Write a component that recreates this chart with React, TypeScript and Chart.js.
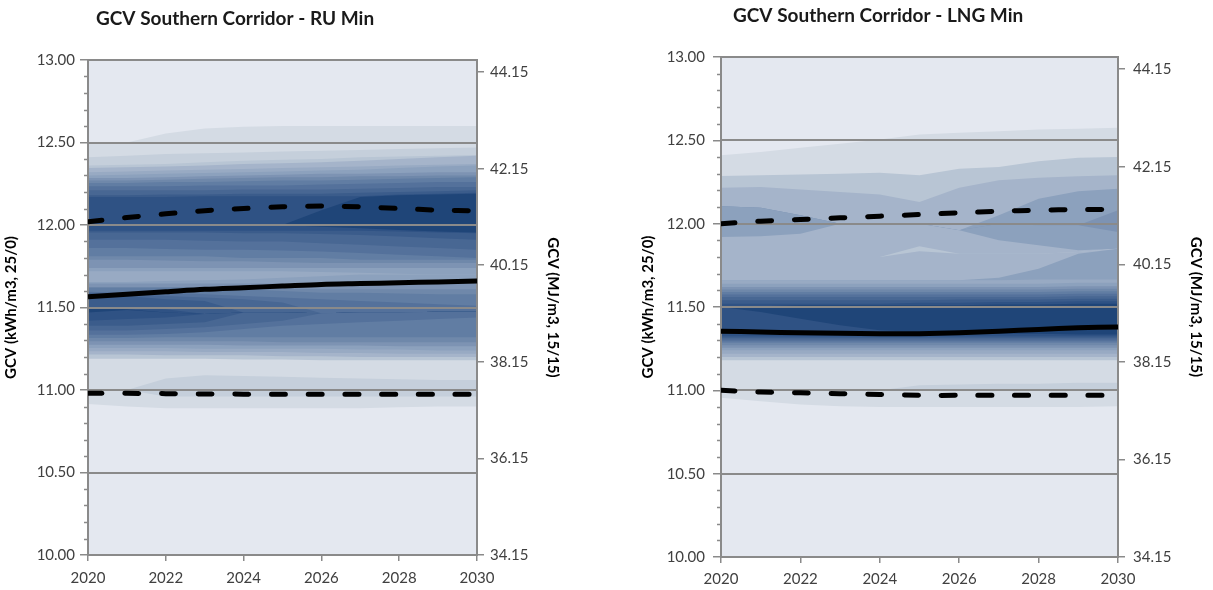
import React, { useEffect, useRef } from 'react';
import { Chart, registerables } from 'chart.js';

Chart.register(...registerables);

const FONT = 'Lato, "Open Sans", sans-serif';
const GRID = '#8a8a8a';
const TEXT = '#404040';

// x axis: years
const years = [2020, 2021, 2022, 2023, 2024, 2025, 2026, 2027, 2028, 2029, 2030];
const yearTicks = [2020, 2022, 2024, 2026, 2028, 2030];

// left axis (kWh/m3, 25/0) and right axis (MJ/m3, 15/15)
const kwhRange = [10, 13];
const kwhStep = 0.5;
const mjRange = [34.15, 44.4];
const mjTicks = [34.15, 36.15, 38.15, 40.15, 42.15, 44.15];

// density level -> fill colour (0 = outside the distribution)
const shadePalette = [
  '#e4e8f0', '#d4dbe4', '#c5cfdb', '#b8c5d4', '#a5b4ca', '#98aac3', '#8ca1bd', '#7d93b3',
  '#6f88aa', '#617da3', '#54719b', '#486793', '#3b5c8b', '#2f5284', '#1f4578',
];

// ---------- GCV Southern Corridor - RU Min ----------
const ruMedian = [11.565, 11.58, 11.595, 11.61, 11.62, 11.63, 11.64, 11.645, 11.65, 11.655, 11.66];
const ruUpper = [12.02, 12.045, 12.068, 12.087, 12.1, 12.11, 12.115, 12.11, 12.1, 12.09, 12.085];
const ruLower = [10.98, 10.98, 10.978, 10.976, 10.975, 10.975, 10.975, 10.975, 10.975, 10.975, 10.975];

// contour edges, bottom to top (kWh/m3 per year)
const ruEdges = [
  [10.915, 10.9, 10.89, 10.89, 10.89, 10.89, 10.89, 10.89, 10.895, 10.9, 10.9],
  [11.0, 11.0, 10.96, 10.96, 10.96, 10.96, 10.96, 10.96, 10.96, 10.96, 10.96],
  [11.0, 11.0, 11.07, 11.09, 11.085, 11.08, 11.075, 11.07, 11.065, 11.06, 11.06],
  [11.19, 11.19, 11.19, 11.19, 11.185, 11.185, 11.18, 11.18, 11.18, 11.18, 11.18],
  [11.215, 11.215, 11.21, 11.21, 11.21, 11.205, 11.205, 11.2, 11.2, 11.2, 11.2],
  [11.235, 11.235, 11.235, 11.23, 11.23, 11.23, 11.225, 11.225, 11.22, 11.22, 11.22],
  [11.255, 11.255, 11.255, 11.25, 11.25, 11.25, 11.25, 11.245, 11.245, 11.24, 11.24],
  [11.275, 11.275, 11.275, 11.275, 11.27, 11.27, 11.27, 11.27, 11.265, 11.265, 11.265],
  [11.295, 11.295, 11.295, 11.295, 11.295, 11.29, 11.29, 11.29, 11.29, 11.29, 11.29],
  [11.315, 11.315, 11.32, 11.32, 11.32, 11.32, 11.32, 11.32, 11.32, 11.32, 11.32],
  [11.335, 11.335, 11.34, 11.35, 11.37, 11.39, 11.4, 11.41, 11.42, 11.43, 11.44],
  [11.36, 11.36, 11.37, 11.38, 11.4, 11.42, 11.465, 11.47, 11.47, 11.475, 11.475],
  [11.39, 11.39, 11.4, 11.41, 11.47, 11.47, 11.465, 11.47, 11.47, 11.475, 11.475],
  [11.42, 11.43, 11.44, 11.46, 11.47, 11.47, 11.465, 11.47, 11.47, 11.475, 11.475],
  [11.47, 11.485, 11.47, 11.46, 11.47, 11.47, 11.465, 11.47, 11.47, 11.475, 11.475],
  [11.5, 11.49, 11.47, 11.46, 11.47, 11.47, 11.465, 11.47, 11.47, 11.475, 11.475],
  [11.5, 11.5, 11.49, 11.46, 11.47, 11.47, 11.465, 11.47, 11.47, 11.475, 11.475],
  [11.585, 11.57, 11.55, 11.54, 11.47, 11.47, 11.465, 11.47, 11.47, 11.475, 11.475],
  [11.59, 11.58, 11.57, 11.56, 11.55, 11.53, 11.465, 11.47, 11.47, 11.475, 11.475],
  [11.595, 11.59, 11.59, 11.58, 11.57, 11.56, 11.55, 11.54, 11.53, 11.52, 11.51],
  [11.62, 11.62, 11.62, 11.62, 11.61, 11.6, 11.59, 11.59, 11.585, 11.58, 11.58],
  [11.625, 11.625, 11.625, 11.625, 11.62, 11.615, 11.61, 11.61, 11.61, 11.61, 11.61],
  [11.645, 11.645, 11.645, 11.645, 11.645, 11.645, 11.645, 11.645, 11.65, 11.65, 11.65],
  [11.655, 11.655, 11.66, 11.665, 11.67, 11.68, 11.69, 11.7, 11.7, 11.7, 11.7],
  [11.72, 11.72, 11.72, 11.72, 11.72, 11.72, 11.715, 11.71, 11.705, 11.7, 11.7],
  [11.74, 11.74, 11.74, 11.74, 11.74, 11.74, 11.74, 11.74, 11.74, 11.74, 11.74],
  [11.79, 11.79, 11.785, 11.78, 11.78, 11.775, 11.77, 11.77, 11.77, 11.77, 11.77],
  [11.81, 11.81, 11.81, 11.81, 11.8, 11.8, 11.8, 11.79, 11.79, 11.79, 11.79],
  [11.86, 11.86, 11.855, 11.85, 11.85, 11.845, 11.84, 11.83, 11.82, 11.81, 11.8],
  [11.91, 11.91, 11.91, 11.905, 11.9, 11.9, 11.89, 11.88, 11.87, 11.86, 11.85],
  [11.955, 11.955, 11.955, 11.955, 11.95, 11.95, 11.945, 11.94, 11.93, 11.92, 11.91],
  [11.965, 11.965, 11.965, 11.965, 11.965, 11.965, 11.965, 11.965, 11.96, 11.955, 11.95],
  [12.0, 12.0, 12.0, 12.0, 12.0, 12.0, 11.99, 11.98, 11.97, 11.96, 11.955],
  [12.0, 12.0, 12.0, 12.0, 12.0, 12.0, 12.09, 12.17, 12.18, 12.185, 12.19],
  [12.17, 12.17, 12.17, 12.175, 12.175, 12.175, 12.175, 12.175, 12.185, 12.19, 12.195],
  [12.18, 12.18, 12.185, 12.185, 12.19, 12.19, 12.19, 12.195, 12.2, 12.205, 12.21],
  [12.21, 12.21, 12.21, 12.21, 12.215, 12.215, 12.215, 12.22, 12.225, 12.23, 12.23],
  [12.235, 12.235, 12.235, 12.24, 12.24, 12.24, 12.245, 12.25, 12.255, 12.26, 12.26],
  [12.255, 12.255, 12.26, 12.26, 12.265, 12.27, 12.27, 12.275, 12.28, 12.285, 12.29],
  [12.27, 12.27, 12.275, 12.28, 12.285, 12.29, 12.29, 12.295, 12.295, 12.3, 12.3],
  [12.285, 12.285, 12.29, 12.295, 12.3, 12.305, 12.31, 12.31, 12.315, 12.32, 12.32],
  [12.3, 12.305, 12.31, 12.315, 12.32, 12.325, 12.33, 12.335, 12.345, 12.355, 12.36],
  [12.32, 12.325, 12.33, 12.335, 12.34, 12.345, 12.35, 12.355, 12.36, 12.365, 12.37],
  [12.345, 12.35, 12.355, 12.36, 12.37, 12.375, 12.38, 12.39, 12.4, 12.41, 12.42],
  [12.36, 12.365, 12.37, 12.38, 12.39, 12.395, 12.4, 12.41, 12.415, 12.42, 12.425],
  [12.41, 12.42, 12.43, 12.435, 12.44, 12.445, 12.45, 12.455, 12.46, 12.465, 12.47],
  [12.5, 12.5, 12.555, 12.585, 12.595, 12.6, 12.6, 12.6, 12.6, 12.6, 12.6],
];
// density level of the band lying just below each edge
const ruShade = [
  0, 1, 2, 1, 3, 4, 5, 6, 7, 8, 9, 10, 11, 12, 13, 14, 13, 12, 11, 10, 9, 8, 7, 6,
  5, 6, 7, 8, 9, 10, 11, 12, 13, 14, 13, 12, 11, 10, 9, 8, 7, 6, 5, 4, 3, 2, 1,
];

// ---------- GCV Southern Corridor - LNG Min ----------
const lngMedian = [11.355, 11.35, 11.345, 11.342, 11.34, 11.34, 11.345, 11.355, 11.365, 11.375, 11.38];
const lngUpper = [12.0, 12.015, 12.025, 12.035, 12.045, 12.055, 12.065, 12.075, 12.08, 12.085, 12.085];
const lngLower = [11.0, 10.99, 10.985, 10.98, 10.975, 10.97, 10.97, 10.97, 10.97, 10.97, 10.97];

const lngEdges = [
  [10.955, 10.935, 10.915, 10.905, 10.9, 10.9, 10.9, 10.9, 10.9, 10.9, 10.905],
  [11.0, 11.0, 11.0, 11.0, 11.0, 11.0, 11.0, 11.0, 11.0, 11.0, 11.0],
  [11.0, 11.0, 11.0, 11.0, 11.0, 11.03, 11.035, 11.04, 11.04, 11.045, 11.045],
  [11.18, 11.18, 11.18, 11.18, 11.18, 11.18, 11.18, 11.18, 11.18, 11.18, 11.18],
  [11.2, 11.2, 11.2, 11.2, 11.2, 11.2, 11.2, 11.2, 11.2, 11.2, 11.2],
  [11.22, 11.22, 11.22, 11.22, 11.22, 11.22, 11.22, 11.22, 11.22, 11.22, 11.22],
  [11.24, 11.24, 11.24, 11.24, 11.24, 11.24, 11.24, 11.24, 11.24, 11.24, 11.24],
  [11.255, 11.255, 11.255, 11.255, 11.255, 11.255, 11.255, 11.255, 11.255, 11.255, 11.255],
  [11.27, 11.27, 11.27, 11.27, 11.27, 11.27, 11.27, 11.27, 11.27, 11.27, 11.27],
  [11.285, 11.285, 11.285, 11.285, 11.285, 11.285, 11.285, 11.285, 11.285, 11.285, 11.285],
  [11.295, 11.295, 11.295, 11.295, 11.295, 11.295, 11.295, 11.295, 11.295, 11.295, 11.295],
  [11.305, 11.305, 11.305, 11.305, 11.305, 11.305, 11.305, 11.305, 11.305, 11.305, 11.305],
  [11.315, 11.315, 11.315, 11.315, 11.315, 11.315, 11.315, 11.315, 11.315, 11.315, 11.315],
  [11.325, 11.325, 11.325, 11.325, 11.325, 11.325, 11.325, 11.325, 11.325, 11.325, 11.325],
  [11.5, 11.47, 11.43, 11.39, 11.36, 11.35, 11.345, 11.34, 11.34, 11.335, 11.335],
  [11.5, 11.505, 11.51, 11.51, 11.51, 11.51, 11.51, 11.515, 11.515, 11.52, 11.52],
  [11.52, 11.52, 11.52, 11.52, 11.52, 11.525, 11.525, 11.53, 11.53, 11.535, 11.535],
  [11.54, 11.54, 11.54, 11.54, 11.54, 11.54, 11.545, 11.545, 11.545, 11.55, 11.55],
  [11.56, 11.56, 11.56, 11.56, 11.56, 11.56, 11.56, 11.56, 11.56, 11.565, 11.565],
  [11.575, 11.575, 11.575, 11.575, 11.575, 11.575, 11.575, 11.575, 11.575, 11.58, 11.58],
  [11.59, 11.59, 11.59, 11.59, 11.59, 11.59, 11.59, 11.59, 11.59, 11.595, 11.595],
  [11.605, 11.605, 11.605, 11.605, 11.605, 11.605, 11.605, 11.605, 11.605, 11.61, 11.61],
  [11.62, 11.62, 11.62, 11.62, 11.62, 11.62, 11.62, 11.62, 11.62, 11.625, 11.625],
  [11.64, 11.64, 11.64, 11.64, 11.64, 11.64, 11.64, 11.64, 11.64, 11.645, 11.645],
  [11.66, 11.66, 11.66, 11.66, 11.66, 11.66, 11.66, 11.66, 11.665, 11.665, 11.665],
  [11.66, 11.66, 11.66, 11.66, 11.66, 11.66, 11.66, 11.675, 11.73, 11.82, 11.85],
  [11.8, 11.8, 11.8, 11.8, 11.8, 11.835, 11.82, 11.82, 11.82, 11.83, 11.85],
  [11.8, 11.8, 11.8, 11.8, 11.8, 11.865, 11.82, 11.82, 11.82, 11.83, 11.85],
  [11.92, 11.925, 11.94, 12.0, 12.0, 12.0, 11.96, 11.9, 11.87, 11.84, 11.85],
  [12.105, 12.095, 12.05, 12.0, 12.0, 12.0, 11.96, 12.0, 11.99, 11.99, 11.95],
  [12.105, 12.095, 12.05, 12.0, 12.0, 12.0, 11.96, 12.0, 11.99, 11.99, 12.08],
  [12.105, 12.095, 12.05, 12.0, 12.0, 12.0, 11.96, 12.05, 12.15, 12.195, 12.21],
  [12.216, 12.22, 12.205, 12.19, 12.175, 12.13, 12.215, 12.26, 12.275, 12.285, 12.29],
  [12.286, 12.29, 12.295, 12.3, 12.305, 12.29, 12.33, 12.34, 12.375, 12.395, 12.4],
  [12.41, 12.43, 12.455, 12.48, 12.505, 12.535, 12.545, 12.555, 12.565, 12.57, 12.575],
];
const lngShade = [
  0, 1, 2, 1, 3, 4, 5, 6, 7, 8, 9, 10, 11, 12, 13, 14, 13, 12, 11, 10, 9, 8, 7, 6,
  5, 6, 4, 3, 4, 6, 7, 6, 4, 3, 1,
];

type PanelProps = {
  title: string;
  edges: number[][];
  shade: number[];
  median: number[];
  upper: number[];
  lower: number[];
  left: number;
  width: number;
  height: number;
  padding: { left: number; right: number; top: number };
  yWidth: number;
  y1Width: number;
  xHeight: number;
  yLabelPad: number;
  y1LabelPad: number;
  xLabelPad: number;
  titleDx: number;
  titleY: number;
};

function FanPanel(p: PanelProps) {
  const ref = useRef<HTMLCanvasElement | null>(null);

  useEffect(() => {
    const canvas = ref.current;
    if (!canvas) return;
    const toPoints = (vals: number[]) => years.map((x, i) => ({ x, y: vals[i] }));

    // each edge fills down to the axis with the colour of the band below it;
    // higher edges are painted first so lower ones overlay them
    const bandSets = p.edges.map((vals, i) => ({
      data: toPoints(vals),
      fill: 'start',
      backgroundColor: shadePalette[p.shade[i]],
      borderColor: 'rgba(0,0,0,0)',
      borderWidth: 0,
      pointRadius: 0,
      pointHoverRadius: 0,
      tension: 0,
      order: i + 2,
    }));

    const lineBase = {
      fill: false,
      borderColor: '#000000',
      borderWidth: 5,
      pointRadius: 0,
      pointHoverRadius: 0,
      tension: 0.3,
      order: 0,
      isSeries: true,
    };
    const seriesSets = [
      { ...lineBase, label: 'Median', data: toPoints(p.median) },
      { ...lineBase, label: 'Upper', data: toPoints(p.upper), borderDash: [14, 22.7], borderCapStyle: 'round' },
      { ...lineBase, label: 'Lower', data: toPoints(p.lower), borderDash: [14, 22.7], borderCapStyle: 'round' },
    ];

    const framePlugin = {
      id: 'fanFrame',
      beforeDraw(chart: any) {
        const { ctx, chartArea: a } = chart;
        ctx.save();
        ctx.fillStyle = shadePalette[0];
        ctx.fillRect(a.left, a.top, a.right - a.left, a.bottom - a.top);
        ctx.restore();
        chart.$gridDone = false;
      },
      beforeDatasetDraw(chart: any, args: any) {
        const ds = chart.data.datasets[args.index];
        if (!ds.isSeries || chart.$gridDone) return;
        chart.$gridDone = true;
        const { ctx, chartArea: a, scales } = chart;
        const y = scales.y;
        ctx.save();
        ctx.strokeStyle = GRID;
        ctx.lineWidth = 2;
        ctx.beginPath();
        y.ticks.forEach((t: any) => {
          if (t.value <= y.min || t.value >= y.max) return;
          const py = Math.round(y.getPixelForValue(t.value));
          ctx.moveTo(a.left, py);
          ctx.lineTo(a.right, py);
        });
        ctx.stroke();
        ctx.strokeRect(a.left, a.top, a.right - a.left, a.bottom - a.top);
        ctx.restore();
      },
      afterDraw(chart: any) {
        const { ctx, chartArea: a, scales } = chart;
        const y = scales.y;
        ctx.save();
        ctx.strokeStyle = GRID;
        ctx.lineWidth = 1.5;
        ctx.beginPath();
        const minorStep = kwhStep / 5;
        const count = Math.round((kwhRange[1] - kwhRange[0]) / minorStep);
        for (let k = 1; k < count; k++) {
          if (k % 5 === 0) continue;
          const py = Math.round(y.getPixelForValue(kwhRange[0] + k * minorStep)) + 0.5;
          ctx.moveTo(a.left - 4, py);
          ctx.lineTo(a.left, py);
        }
        ctx.stroke();
        ctx.fillStyle = '#1a1a1a';
        ctx.font = `bold 19px ${FONT}`;
        ctx.textAlign = 'left';
        ctx.textBaseline = 'middle';
        ctx.fillText(p.title, a.left + p.titleDx, p.titleY);
        ctx.restore();
      },
    };

    const tickFont = { family: FONT, size: 15 };
    const titleFont = { family: FONT, size: 15, weight: 'bold' as const };

    const chart = new Chart(canvas, {
      type: 'line',
      data: { datasets: [...seriesSets, ...bandSets] as any },
      options: {
        animation: false,
        responsive: false,
        devicePixelRatio: 1,
        events: [],
        layout: { padding: { left: p.padding.left, right: p.padding.right, top: p.padding.top, bottom: 0 } },
        plugins: { legend: { display: false }, tooltip: { enabled: false } },
        scales: {
          x: {
            type: 'linear',
            min: years[0],
            max: years[years.length - 1],
            afterBuildTicks: (s: any) => {
              s.ticks = yearTicks.map((v) => ({ value: v }));
            },
            afterFit: (s: any) => {
              s.height = p.xHeight;
            },
            ticks: {
              font: tickFont,
              color: TEXT,
              padding: p.xLabelPad,
              autoSkip: false,
              maxRotation: 0,
              callback: (v: any) => String(v),
            },
            grid: { drawOnChartArea: false, drawTicks: true, tickLength: 6, color: GRID, lineWidth: 1.5 },
            border: { display: false },
          },
          y: {
            type: 'linear',
            position: 'left',
            min: kwhRange[0],
            max: kwhRange[1],
            afterFit: (s: any) => {
              s.width = p.yWidth;
            },
            ticks: {
              stepSize: kwhStep,
              font: tickFont,
              color: TEXT,
              padding: p.yLabelPad,
              callback: (v: any) => Number(v).toFixed(2),
            },
            grid: { drawOnChartArea: false, drawTicks: true, tickLength: 8, color: GRID, lineWidth: 1.5 },
            border: { display: false },
            title: {
              display: true,
              text: 'GCV (kWh/m3, 25/0)',
              font: titleFont,
              color: '#000000',
              padding: { top: 2, bottom: 0 },
            },
          },
          y1: {
            type: 'linear',
            position: 'right',
            min: mjRange[0],
            max: mjRange[1],
            afterBuildTicks: (s: any) => {
              s.ticks = mjTicks.map((v) => ({ value: v }));
            },
            afterFit: (s: any) => {
              s.width = p.y1Width;
            },
            ticks: {
              font: tickFont,
              color: TEXT,
              padding: p.y1LabelPad,
              callback: (v: any) => Number(v).toFixed(2),
            },
            grid: { drawOnChartArea: false, drawTicks: true, tickLength: 7, color: GRID, lineWidth: 1.5 },
            border: { display: false },
            title: {
              display: true,
              text: 'GCV (MJ/m3, 15/15)',
              font: titleFont,
              color: '#000000',
              padding: { top: 2, bottom: 0 },
            },
          },
        },
      } as any,
      plugins: [framePlugin as any],
    });

    return () => {
      chart.destroy();
    };
  }, []);

  return (
    <canvas
      ref={ref}
      width={p.width}
      height={p.height}
      style={{ position: 'absolute', left: p.left, top: 0, width: p.width, height: p.height, display: 'block' }}
    />
  );
}

export default function App() {
  return (
    <div style={{ position: 'absolute', left: 0, top: 0, width: 1213, height: 590, background: '#ffffff', overflow: 'hidden' }}>
      <FanPanel
        title="GCV Southern Corridor - RU Min"
        edges={ruEdges}
        shade={ruShade}
        median={ruMedian}
        upper={ruUpper}
        lower={ruLower}
        left={0}
        width={600}
        height={590}
        padding={{ left: 0, right: 36, top: 60 }}
        yWidth={88}
        y1Width={87}
        xHeight={35}
        yLabelPad={5}
        y1LabelPad={6}
        xLabelPad={8}
        titleDx={8}
        titleY={19}
      />
      <FanPanel
        title="GCV Southern Corridor - LNG Min"
        edges={lngEdges}
        shade={lngShade}
        median={lngMedian}
        upper={lngUpper}
        lower={lngLower}
        left={606}
        width={607}
        height={590}
        padding={{ left: 31, right: 6, top: 57 }}
        yWidth={84}
        y1Width={89}
        xHeight={33}
        yLabelPad={8}
        y1LabelPad={8}
        xLabelPad={7}
        titleDx={12}
        titleY={16}
      />
    </div>
  );
}
